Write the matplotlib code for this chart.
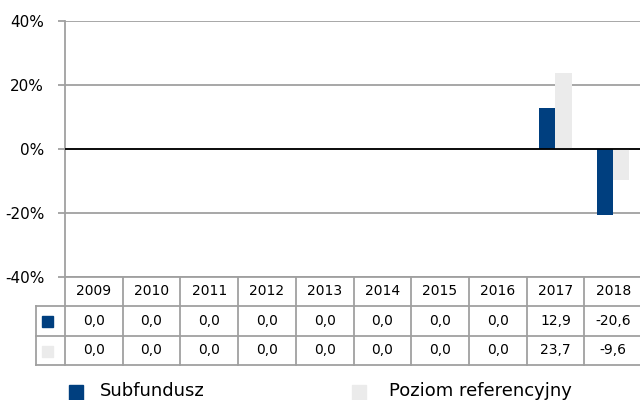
import matplotlib
matplotlib.use("Agg")
import matplotlib.pyplot as plt
from matplotlib.patches import Rectangle
from matplotlib.lines import Line2D

years = ["2009", "2010", "2011", "2012", "2013", "2014", "2015", "2016", "2017", "2018"]
subfundusz = [0.0, 0.0, 0.0, 0.0, 0.0, 0.0, 0.0, 0.0, 12.9, -20.6]
referencyjny = [0.0, 0.0, 0.0, 0.0, 0.0, 0.0, 0.0, 0.0, 23.7, -9.6]
series_names = ["Subfundusz", "Poziom referencyjny"]
y_ticks = [-40, -20, 0, 20, 40]

blue = "#003F7F"
grey = "#EBEBEB"
line_col = "#A0A0A0"

plt.rcParams["font.family"] = "DejaVu Sans"

fig = plt.figure(figsize=(6.4, 4.0), dpi=100)
ax = fig.add_axes([65 / 640, 123 / 400, 577 / 640, 256 / 400])

x = list(range(len(years)))
w = 0.28
ax.bar([i - w / 2 for i in x], subfundusz, width=w, color=blue, zorder=3)
ax.bar([i + w / 2 for i in x], referencyjny, width=w, color=grey, zorder=3)

ax.set_xlim(-0.5, len(years) - 0.5)
ax.set_ylim(-40, 40)
ax.set_yticks(y_ticks)
ax.set_yticklabels([f"{v}%" for v in y_ticks], fontsize=11)
ax.yaxis.grid(True, color=line_col, lw=1.3, zorder=0)
ax.axhline(0, color="black", lw=1.3, zorder=4)
ax.set_xticks([])
ax.tick_params(axis="y", length=5, width=1.3, color=line_col, pad=10)
for side in ["top", "right", "bottom"]:
    ax.spines[side].set_visible(False)
ax.spines["left"].set_color(line_col)
ax.spines["left"].set_linewidth(1.3)

# data table below the plot, x in data units, y in axes fraction
tr = ax.get_xaxis_transform()
rows_y = [0.0, -0.113, -0.230, -0.344]
lkw = dict(color=line_col, lw=1.3, transform=tr, clip_on=False)
for yy in rows_y[1:]:
    ax.add_line(Line2D([-1.0, len(years) - 0.5], [yy, yy], **lkw))
ax.add_line(Line2D([-0.5, len(years) - 0.5], [0, 0], **lkw))
ax.add_line(Line2D([-1.0, -1.0], [rows_y[1], rows_y[3]], **lkw))
for i in range(len(years) + 1):
    ax.add_line(Line2D([i - 0.5, i - 0.5], [rows_y[0], rows_y[3]], **lkw))

for i, yr in enumerate(years):
    ax.text(i, (rows_y[0] + rows_y[1]) / 2, yr, transform=tr, ha="center", va="center", fontsize=10)
    ax.text(i, (rows_y[1] + rows_y[2]) / 2, f"{subfundusz[i]:.1f}".replace(".", ","),
            transform=tr, ha="center", va="center", fontsize=10)
    ax.text(i, (rows_y[2] + rows_y[3]) / 2, f"{referencyjny[i]:.1f}".replace(".", ","),
            transform=tr, ha="center", va="center", fontsize=10)

# series swatches in the table's first column (figure pixels)
for col, yc in [(blue, 400 - 321), (grey, 400 - 351)]:
    fig.patches.append(Rectangle((42, yc - 5.5), 11, 11, color=col, transform=None))

# legend along the bottom edge
fig.patches.append(Rectangle((69, 0), 14, 15, color=blue, transform=None))
fig.patches.append(Rectangle((352, 0), 14, 15, color=grey, transform=None))
fig.text(100 / 640, 0.5 / 400, series_names[0], fontsize=13, va="bottom", ha="left")
fig.text(389 / 640, 0.5 / 400, series_names[1], fontsize=13, va="bottom", ha="left")

fig.savefig("out.png", dpi=100)
